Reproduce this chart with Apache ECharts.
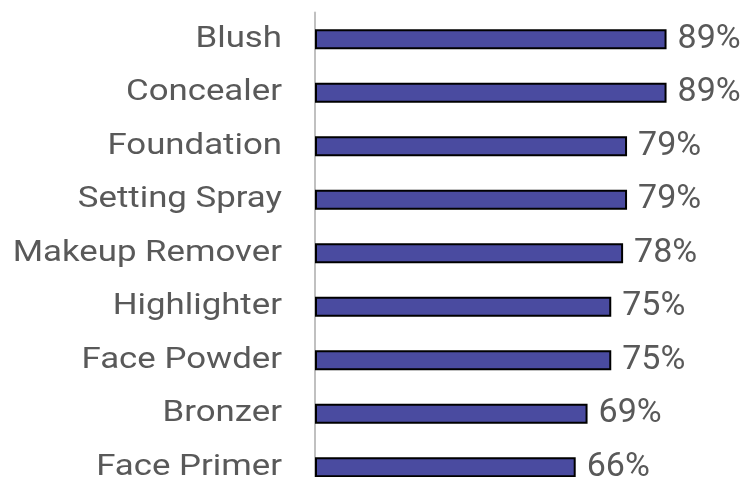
<!DOCTYPE html>
<html><head><meta charset="utf-8">
<script src="https://cdn.jsdelivr.net/npm/echarts@6/dist/echarts.min.js"></script>
<style>html,body{margin:0;padding:0;background:#fff}#c{width:744px;height:477px}</style>
</head><body><div id="c"></div>
<script>
const categories = ["Blush","Concealer","Foundation","Setting Spray","Makeup Remover","Highlighter","Face Powder","Bronzer","Face Primer"];
const values = [89, 89, 79, 79, 78, 75, 75, 69, 66];

const chart = echarts.init(document.getElementById('c'));
chart.setOption({
  animation: false,
  grid: {left: 315, top: 12.5, width: 395, height: 481.5, outerBoundsMode: 'none', containLabel: false},
  xAxis: {type: 'value', min: 0, max: 100, show: false},
  yAxis: {
    type: 'category', data: categories, inverse: true,
    axisLine: {show: true, lineStyle: {color: '#c0c0c0', width: 2}},
    axisTick: {show: false},
    axisLabel: {show: false}
  },
  series: [{
    type: 'bar', data: values, barWidth: 20,
    itemStyle: {color: '#4a4ba0', borderColor: '#000', borderWidth: 2},
    label: {show: true, position: 'right', distance: 11, formatter: '{c}%',
      fontFamily: 'Roboto', fontSize: 34, color: '#595959'}
  }, {
    type: 'custom',
    data: categories.map((c, i) => [0, i]),
    encode: {x: 0, y: 1},
    silent: true,
    renderItem: function (params, api) {
      const p = api.coord([0, api.value(1)]);
      return {
        type: 'text',
        x: p[0] - 33, y: p[1],
        scaleX: 1.2,
        style: {
          text: categories[params.dataIndex],
          x: 0, y: 0,
          align: 'right', verticalAlign: 'middle',
          font: '29px Roboto', fill: '#595959'
        }
      };
    }
  }]
});
</script></body></html>
